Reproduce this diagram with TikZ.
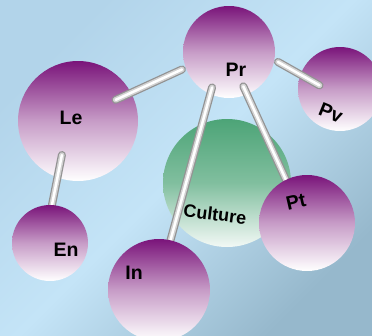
\documentclass[tikz,border=0pt]{standalone}
\usepackage{fontspec}
\setmainfont{Liberation Sans}
\usetikzlibrary{positioning,calc}
\definecolor{Pu}{RGB}{122,20,122}
\definecolor{Gr}{RGB}{45,148,95}
\definecolor{BgA}{RGB}{178,212,234}
\definecolor{BgB}{RGB}{196,228,247}
\definecolor{BgC}{RGB}{150,184,204}
\pgfdeclarelayer{front}
\pgfsetlayers{main,front}

\begin{document}
\begin{tikzpicture}[x=1pt, y=-1pt,
  ball/.style={circle, inner sep=0pt, top color=Pu, bottom color=white, middle color=Pu!42!white},
  tube/.style={line cap=round, line width=8pt, draw=gray!85,
    postaction={draw=gray!35, line width=5.5pt},
    postaction={draw=white, line width=2.5pt}},
  lbl/.style={inner sep=0pt, font=\fontsize{19.5}{19.5}\selectfont\bfseries}]
  \useasboundingbox (0,0) rectangle (372,335);
  \shade[top color=BgA, bottom color=BgC, middle color=BgB, shading angle=45] (0,0) rectangle (372,335);

  \node[circle, inner sep=0pt, minimum size=128pt, top color=Gr!85!white, bottom color=Gr!6!white, middle color=Gr!60!white] (cult) at (227,183) {};
  \node[ball, minimum size=120pt] (le) at (78,121) {};
  \node[ball, minimum size=84pt] (pv) at (340,89) {};
  \node[ball, minimum size=92pt] (pr) at (229,52) {};
  \begin{pgfonlayer}{front}
    \node[ball, minimum size=76pt] (en) at (50,243) {};
    \node[ball, minimum size=102pt] (in) at (159,290) {};
    \node[ball, minimum size=96pt] (pt) at (307,223) {};
  \end{pgfonlayer}

  % bars between the balls
  \draw[tube, shorten <=-17pt, shorten >=4pt] (le.28) -- (pr.200);
  \draw[tube, shorten <=4pt, shorten >=-22pt] (pr.350) -- (pv.160);
  \draw[tube, shorten <=-7pt] (pr.246) -- (in.77);
  \draw[tube, shorten <=-9pt] (pr.293) -- (pt.116);
  \draw[tube, shorten <=-23pt] (le.250) -- (en.87);

  \begin{pgfonlayer}{front}
    \node[lbl] (pr-t) at (236,70) {Pr};
    \node[lbl] (le-t) at (71,118) {Le};
    \node[lbl, rotate=-22] (pv-t) at (331,113) {Pv};
    \node[lbl, rotate=-7, font=\fontsize{18}{18}\selectfont\bfseries] (cult-t) at (215,214) {Culture};
    \node[lbl, rotate=13] (pt-t) at (296,202) {Pt};
    \node[lbl] (en-t) at (66,250) {En};
    \node[lbl] (in-t) at (134,273) {In};
  \end{pgfonlayer}
\end{tikzpicture}
\end{document}
